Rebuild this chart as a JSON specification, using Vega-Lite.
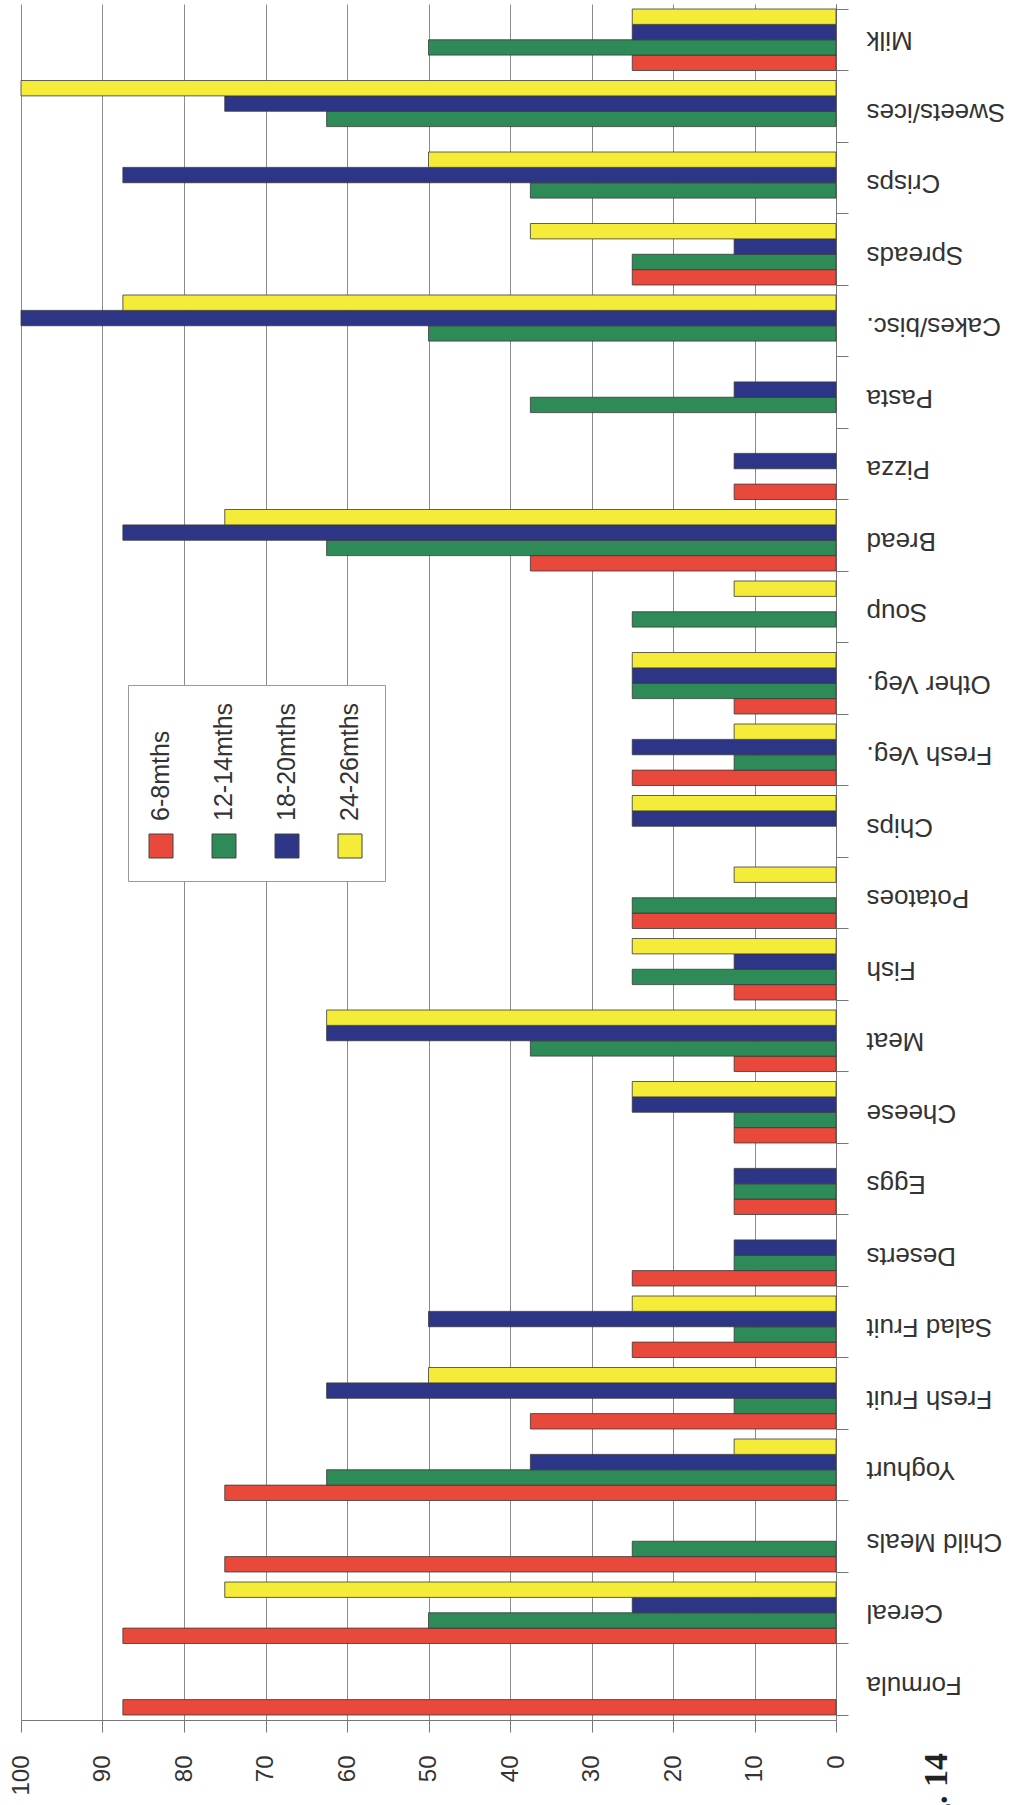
{
  "$schema": "https://vega.github.io/schema/vega-lite/v6.json",
  "width": 815,
  "height": 1716,
  "autosize": {"type": "none"},
  "padding": {"left": 21, "top": 4, "right": 187, "bottom": 85},
  "background": "white",
  "title": {
    "text": "Fig. 14",
    "orient": "bottom",
    "anchor": "end",
    "frame": "group",
    "angle": -90,
    "align": "right",
    "baseline": "middle",
    "font": "Liberation Serif",
    "fontWeight": "bold",
    "fontSize": 34,
    "color": "#222",
    "offset": 0,
    "dx": 42,
    "dy": 101
  },
  "data": {
    "values": [
      {"food": "Formula", "age": "6-8mths", "pct": 87.5},
      {"food": "Cereal", "age": "6-8mths", "pct": 87.5},
      {"food": "Cereal", "age": "12-14mths", "pct": 50},
      {"food": "Cereal", "age": "18-20mths", "pct": 25},
      {"food": "Cereal", "age": "24-26mths", "pct": 75},
      {"food": "Child Meals", "age": "6-8mths", "pct": 75},
      {"food": "Child Meals", "age": "12-14mths", "pct": 25},
      {"food": "Yoghurt", "age": "6-8mths", "pct": 75},
      {"food": "Yoghurt", "age": "12-14mths", "pct": 62.5},
      {"food": "Yoghurt", "age": "18-20mths", "pct": 37.5},
      {"food": "Yoghurt", "age": "24-26mths", "pct": 12.5},
      {"food": "Fresh Fruit", "age": "6-8mths", "pct": 37.5},
      {"food": "Fresh Fruit", "age": "12-14mths", "pct": 12.5},
      {"food": "Fresh Fruit", "age": "18-20mths", "pct": 62.5},
      {"food": "Fresh Fruit", "age": "24-26mths", "pct": 50},
      {"food": "Salad Fruit", "age": "6-8mths", "pct": 25},
      {"food": "Salad Fruit", "age": "12-14mths", "pct": 12.5},
      {"food": "Salad Fruit", "age": "18-20mths", "pct": 50},
      {"food": "Salad Fruit", "age": "24-26mths", "pct": 25},
      {"food": "Deserts", "age": "6-8mths", "pct": 25},
      {"food": "Deserts", "age": "12-14mths", "pct": 12.5},
      {"food": "Deserts", "age": "18-20mths", "pct": 12.5},
      {"food": "Eggs", "age": "6-8mths", "pct": 12.5},
      {"food": "Eggs", "age": "12-14mths", "pct": 12.5},
      {"food": "Eggs", "age": "18-20mths", "pct": 12.5},
      {"food": "Cheese", "age": "6-8mths", "pct": 12.5},
      {"food": "Cheese", "age": "12-14mths", "pct": 12.5},
      {"food": "Cheese", "age": "18-20mths", "pct": 25},
      {"food": "Cheese", "age": "24-26mths", "pct": 25},
      {"food": "Meat", "age": "6-8mths", "pct": 12.5},
      {"food": "Meat", "age": "12-14mths", "pct": 37.5},
      {"food": "Meat", "age": "18-20mths", "pct": 62.5},
      {"food": "Meat", "age": "24-26mths", "pct": 62.5},
      {"food": "Fish", "age": "6-8mths", "pct": 12.5},
      {"food": "Fish", "age": "12-14mths", "pct": 25},
      {"food": "Fish", "age": "18-20mths", "pct": 12.5},
      {"food": "Fish", "age": "24-26mths", "pct": 25},
      {"food": "Potatoes", "age": "6-8mths", "pct": 25},
      {"food": "Potatoes", "age": "12-14mths", "pct": 25},
      {"food": "Potatoes", "age": "24-26mths", "pct": 12.5},
      {"food": "Chips", "age": "18-20mths", "pct": 25},
      {"food": "Chips", "age": "24-26mths", "pct": 25},
      {"food": "Fresh Veg.", "age": "6-8mths", "pct": 25},
      {"food": "Fresh Veg.", "age": "12-14mths", "pct": 12.5},
      {"food": "Fresh Veg.", "age": "18-20mths", "pct": 25},
      {"food": "Fresh Veg.", "age": "24-26mths", "pct": 12.5},
      {"food": "Other Veg.", "age": "6-8mths", "pct": 12.5},
      {"food": "Other Veg.", "age": "12-14mths", "pct": 25},
      {"food": "Other Veg.", "age": "18-20mths", "pct": 25},
      {"food": "Other Veg.", "age": "24-26mths", "pct": 25},
      {"food": "Soup", "age": "12-14mths", "pct": 25},
      {"food": "Soup", "age": "24-26mths", "pct": 12.5},
      {"food": "Bread", "age": "6-8mths", "pct": 37.5},
      {"food": "Bread", "age": "12-14mths", "pct": 62.5},
      {"food": "Bread", "age": "18-20mths", "pct": 87.5},
      {"food": "Bread", "age": "24-26mths", "pct": 75},
      {"food": "Pizza", "age": "6-8mths", "pct": 12.5},
      {"food": "Pizza", "age": "18-20mths", "pct": 12.5},
      {"food": "Pasta", "age": "12-14mths", "pct": 37.5},
      {"food": "Pasta", "age": "18-20mths", "pct": 12.5},
      {"food": "Cakes/bisc.", "age": "12-14mths", "pct": 50},
      {"food": "Cakes/bisc.", "age": "18-20mths", "pct": 100},
      {"food": "Cakes/bisc.", "age": "24-26mths", "pct": 87.5},
      {"food": "Spreads", "age": "6-8mths", "pct": 25},
      {"food": "Spreads", "age": "12-14mths", "pct": 25},
      {"food": "Spreads", "age": "18-20mths", "pct": 12.5},
      {"food": "Spreads", "age": "24-26mths", "pct": 37.5},
      {"food": "Crisps", "age": "12-14mths", "pct": 37.5},
      {"food": "Crisps", "age": "18-20mths", "pct": 87.5},
      {"food": "Crisps", "age": "24-26mths", "pct": 50},
      {"food": "Sweets/ices", "age": "12-14mths", "pct": 62.5},
      {"food": "Sweets/ices", "age": "18-20mths", "pct": 75},
      {"food": "Sweets/ices", "age": "24-26mths", "pct": 100},
      {"food": "Milk", "age": "6-8mths", "pct": 25},
      {"food": "Milk", "age": "12-14mths", "pct": 50},
      {"food": "Milk", "age": "18-20mths", "pct": 25},
      {"food": "Milk", "age": "24-26mths", "pct": 25}
    ]
  },
  "mark": {"type": "bar", "stroke": "#3a3a3a", "strokeWidth": 0.8},
  "encoding": {
    "x": {
      "field": "pct",
      "type": "quantitative",
      "scale": {"domain": [0, 100], "reverse": true, "nice": false, "zero": true},
      "axis": {
        "title": null,
        "orient": "bottom",
        "values": [0, 10, 20, 30, 40, 50, 60, 70, 80, 90, 100],
        "grid": true,
        "gridColor": "#8c8c8c",
        "gridWidth": 1,
        "gridOpacity": 1,
        "domainColor": "#777",
        "domainWidth": 1,
        "tickColor": "#777",
        "tickSize": 12,
        "labelAngle": -90,
        "labelAlign": "right",
        "labelBaseline": "middle",
        "labelPadding": 23,
        "labelFont": "Liberation Sans",
        "labelFontSize": 24,
        "labelColor": "#333",
        "labelOverlap": false,
        "labelFlush": false
      }
    },
    "y": {
      "field": "food",
      "type": "nominal",
      "scale": {
        "domain": ["Milk", "Sweets/ices", "Crisps", "Spreads", "Cakes/bisc.", "Pasta", "Pizza", "Bread", "Soup", "Other Veg.", "Fresh Veg.", "Chips", "Potatoes", "Fish", "Meat", "Cheese", "Eggs", "Deserts", "Salad Fruit", "Fresh Fruit", "Yoghurt", "Child Meals", "Cereal", "Formula"],
        "paddingInner": 0.14,
        "paddingOuter": 0.07
      },
      "axis": {
        "title": null,
        "orient": "right",
        "grid": false,
        "tickBand": "extent",
        "domainColor": "#777",
        "domainWidth": 1,
        "tickColor": "#777",
        "tickSize": 12,
        "labelAngle": 180,
        "labelAlign": "right",
        "labelBaseline": "middle",
        "labelPadding": 18,
        "labelFont": "Liberation Sans",
        "labelFontSize": 26,
        "labelColor": "#333",
        "labelLimit": 300
      }
    },
    "yOffset": {
      "field": "age",
      "type": "nominal",
      "scale": {"domain": ["24-26mths", "18-20mths", "12-14mths", "6-8mths"], "paddingInner": 0, "paddingOuter": 0}
    },
    "color": {
      "field": "age",
      "type": "nominal",
      "scale": {
        "domain": ["6-8mths", "12-14mths", "18-20mths", "24-26mths"],
        "range": ["#e8493b", "#2e8a57", "#2d3587", "#f4ec38"]
      },
      "legend": {
        "title": null,
        "orient": "none",
        "legendX": 107,
        "legendY": 681,
        "direction": "horizontal",
        "columns": 4,
        "columnPadding": 35,
        "padding": 21,
        "strokeColor": "#999",
        "fillColor": "white",
        "symbolType": "square",
        "symbolSize": 576,
        "symbolStrokeColor": "#444",
        "symbolStrokeWidth": 1,
        "symbolOpacity": 1,
        "labelFont": "Liberation Sans",
        "labelFontSize": 25,
        "labelColor": "#333",
        "encode": {
          "symbols": {"update": {"x": {"value": 12}, "y": {"value": 140}}},
          "labels": {"update": {"angle": {"value": -90}, "align": {"value": "left"}, "baseline": {"value": "middle"}, "x": {"value": 12}, "y": {"value": 115}}}
        }
      }
    }
  },
  "config": {
    "view": {"stroke": null}
  }
}
